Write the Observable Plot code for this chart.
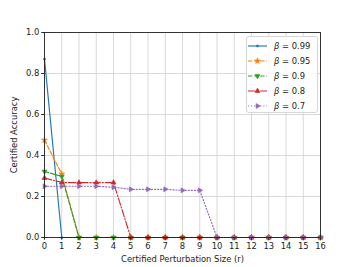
<!DOCTYPE html>
<html>
<head>
<meta charset="utf-8">
<script src="https://cdn.jsdelivr.net/npm/d3@7"></script>
<script src="https://cdn.jsdelivr.net/npm/@observablehq/plot@0.6"></script>
<style>
  html, body { margin: 0; padding: 0; background: #fff; }
  #chart { position: relative; width: 356px; height: 267px; font-family: "DejaVu Sans", sans-serif; }
  #legend { position: absolute; left: 246px; top: 36px; width: 72px; height: 77px; box-sizing: border-box;
    border: 1px solid #d6d6d6; border-radius: 3px; background: rgba(255,255,255,0.85); }
  .row { position: absolute; left: 0; height: 12px; display: flex; align-items: center; }
  .row svg { margin-left: 1px; }
  .row span { font-size: 8.4px; margin-left: 7px; color: #222; white-space: nowrap; }
</style>
</head>
<body>
<div id="chart"><div id="legend"></div></div>
<script>
const radius = [0,1,2,3,4,5,6,7,8,9,10,11,12,13,14,15,16];
const betas = ["0.99", "0.95", "0.9", "0.8", "0.7"];
const acc099 = [0.87, 0, 0, 0, 0, 0, 0, 0, 0, 0, 0, 0, 0, 0, 0, 0, 0];
const acc095 = [0.475, 0.31, 0, 0, 0, 0, 0, 0, 0, 0, 0, 0, 0, 0, 0, 0, 0];
const acc09 = [0.322, 0.298, 0, 0, 0, 0, 0, 0, 0, 0, 0, 0, 0, 0, 0, 0, 0];
const acc08 = [0.29, 0.268, 0.268, 0.268, 0.268, 0, 0, 0, 0, 0, 0, 0, 0, 0, 0, 0, 0];
const acc07 = [0.25, 0.25, 0.25, 0.25, 0.245, 0.235, 0.235, 0.235, 0.23, 0.23, 0, 0, 0, 0, 0, 0, 0];
const yTicks = [0, 0.2, 0.4, 0.6, 0.8, 1.0];

function tri(dir) {
  return {
    draw(ctx, size) {
      const R = Math.sqrt(4 * size / (3 * Math.sqrt(3)));
      const c = R * Math.sqrt(3) / 2, h = R / 2;
      if (dir === "down") { ctx.moveTo(0, R); ctx.lineTo(-c, -h); ctx.lineTo(c, -h); }
      else if (dir === "up") { ctx.moveTo(0, -R); ctx.lineTo(c, h); ctx.lineTo(-c, h); }
      else { ctx.moveTo(R, 0); ctx.lineTo(-h, -c); ctx.lineTo(-h, c); }
      ctx.closePath();
    }
  };
}

const styles = [
  {vals: acc099, color: "#1f77b4", dash: null, symbol: "circle", r: 1.1},
  {vals: acc095, color: "#ff7f0e", dash: "4.3,1.85", symbol: "star", r: 1.9},
  {vals: acc09, color: "#2ca02c", dash: "4.3,1.85", symbol: tri("down"), r: 1.85},
  {vals: acc08, color: "#d62728", dash: "7.4,1.85,1.16,1.85", symbol: tri("up"), r: 1.85},
  {vals: acc07, color: "#9467bd", dash: "1.16,1.9", symbol: tri("right"), r: 1.85}
];

const marks = [
  Plot.gridX(radius, {stroke: "#cfcfcf", strokeOpacity: 1, strokeWidth: 0.8}),
  Plot.gridY(yTicks, {stroke: "#cfcfcf", strokeOpacity: 1, strokeWidth: 0.8})
];
styles.forEach((s) => {
  const data = radius.map((r, i) => ({r, v: s.vals[i]}));
  marks.push(Plot.line(data, {x: "r", y: "v", stroke: s.color, strokeWidth: 1.15, strokeDasharray: s.dash}));
  marks.push(Plot.dot(data, {x: "r", y: "v", fill: s.color, stroke: s.color, strokeWidth: 0.6, symbol: s.symbol, r: s.r}));
});
marks.push(
  Plot.frame({stroke: "#222", strokeWidth: 0.9}),
  Plot.axisX({ticks: radius, tickSize: 2.7, tickPadding: 2.5, tickFormat: d3.format("d"),
    label: "Certified Perturbation Size (r)", labelAnchor: "center", labelArrow: "none", labelOffset: 24, fontSize: 8.4}),
  Plot.axisY({ticks: yTicks, tickSize: 2.7, tickPadding: 2.5, tickFormat: d3.format(".1f"),
    label: "Certified Accuracy", labelAnchor: "center", labelArrow: "none", labelOffset: 33, fontSize: 8.4})
);

const chart = Plot.plot({
  width: 356,
  height: 267,
  marginLeft: 44,
  marginRight: 36,
  marginTop: 32,
  marginBottom: 30,
  style: {fontFamily: "DejaVu Sans, sans-serif", fontSize: "8.4px", color: "#222", background: "#fff"},
  x: {domain: [0, 16]},
  y: {domain: [0, 1]},
  marks
});
document.getElementById("chart").prepend(chart);

// legend
const legend = document.getElementById("legend");
styles.forEach((s, i) => {
  const row = document.createElement("div");
  row.className = "row";
  row.style.top = (3 + i * 15) + "px";
  const ns = "http://www.w3.org/2000/svg";
  const svg = document.createElementNS(ns, "svg");
  svg.setAttribute("width", 19); svg.setAttribute("height", 10);
  const line = document.createElementNS(ns, "line");
  line.setAttribute("x1", 0); line.setAttribute("x2", 19); line.setAttribute("y1", 5); line.setAttribute("y2", 5);
  line.setAttribute("stroke", s.color); line.setAttribute("stroke-width", 1.15);
  if (s.dash) line.setAttribute("stroke-dasharray", s.dash);
  svg.appendChild(line);
  const sym = typeof s.symbol === "string" ? (s.symbol === "star" ? d3.symbolStar : d3.symbolCircle) : s.symbol;
  const p = document.createElementNS(ns, "path");
  p.setAttribute("d", d3.symbol(sym, Math.PI * s.r * s.r)());
  p.setAttribute("transform", "translate(9.5,5)");
  p.setAttribute("fill", s.color); p.setAttribute("stroke", s.color); p.setAttribute("stroke-width", 0.6);
  svg.appendChild(p);
  row.appendChild(svg);
  const t = document.createElement("span");
  t.innerHTML = "<i>β</i> = " + betas[i];
  row.appendChild(t);
  legend.appendChild(row);
});
</script>
</body>
</html>
